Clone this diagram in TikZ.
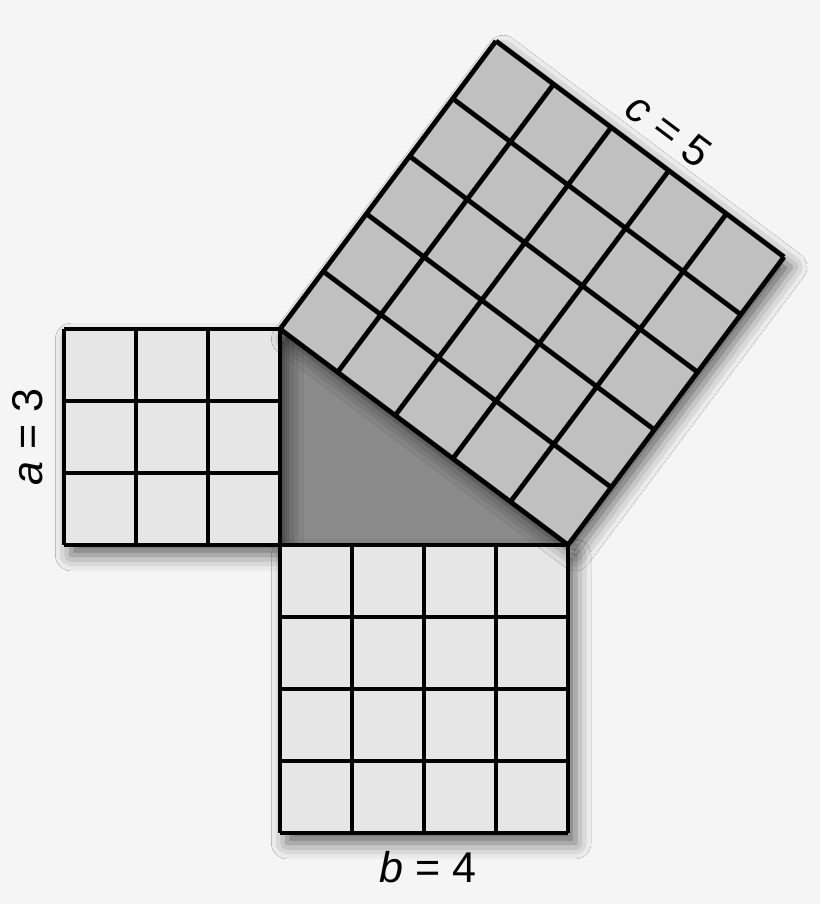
\documentclass[tikz,border=0pt]{standalone}
\usepackage{fontspec}
\setmainfont{Liberation Sans}
\usetikzlibrary{shadows.blur}
\definecolor{bgcol}{HTML}{F5F5F5}
\definecolor{legcell}{HTML}{E6E6E6}
\definecolor{hypcell}{HTML}{C0C0C0}
\definecolor{tricol}{HTML}{8A8A8A}
\tikzset{
  gridline/.style={line width=1.9pt, line join=miter, black},
  softshadow/.style={blur shadow={shadow xshift=0.1cm, shadow yshift=-0.14cm, shadow blur radius=0.22cm, shadow opacity=60}},
  sidelabel/.style={font=\fontsize{17}{20}\selectfont, inner sep=1pt}
}
\newcommand{\legsquare}[3] {\fill [#3, softshadow] (#1) rectangle ++(#2,#2);
  \draw [gridline, shift={(#1)}] (0,0) grid (#2,#2);}

\begin{document}
\begin{tikzpicture}

\useasboundingbox [fill=bgcol] (-3.889,-4.986) rectangle (7.5,7.569);

\coordinate (C) at (0,0);
\coordinate (A) at (0,3);
\coordinate (B) at (4,0);

% triangle
\fill [tricol] (A) -- (C) -- (B) -- cycle;

% squares on the legs
\legsquare {-3,0} {3} {legcell};
\legsquare {0,-4} {4} {legcell};

% square on the hypotenuse
\fill [hypcell, softshadow] (A) -- (B) -- (7,4) -- (3,7) -- cycle;
\draw [gridline, shift={(A)}, rotate=-36.8699] (0,0) grid (5,5);

\draw [gridline] (A) -- (C) -- (B);

\node at (-3.5,1.5) (alabel) [sidelabel, rotate=90] {\textit{a} = 3};
\node at (2.06,-4.47) (blabel) [sidelabel] {\textit{b} = 4};
\node at (5.40,5.76) (clabel) [sidelabel, rotate=-36.87] {\textit{c} = 5};

\end{tikzpicture}
\end{document}
